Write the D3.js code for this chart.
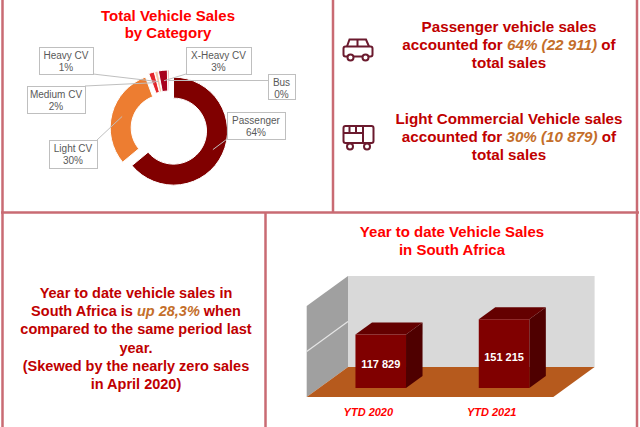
<!DOCTYPE html>
<html>
<head>
<meta charset="utf-8">
<script src="https://cdn.jsdelivr.net/npm/d3@7"></script>
<style>
  body { margin: 0; background: #fff; }
  svg { display: block; font-family: "Liberation Sans", Arial, sans-serif; }
  .frame { stroke: #c96b73; stroke-width: 2.5; fill: none; }
  .chartTitle { fill: #ff0000; font-weight: bold; font-size: 15px; text-anchor: middle; }
  .note { fill: #c00000; font-weight: bold; text-anchor: middle; }
  .hi { fill: #c46e2a; font-style: italic; }
  .calloutBox { fill: #fff; stroke: #bfbfbf; stroke-width: 1; }
  .calloutText { fill: #595959; font-size: 10px; text-anchor: middle; }
  .leader { stroke: #bfbfbf; stroke-width: 1; }
  .icon { fill: none; stroke: #6b1a2e; stroke-width: 2; }
</style>
</head>
<body>
<svg id="chart" width="640" height="427"></svg>
<script>
// donut data: share of total vehicle sales by category
const donutCategories = ["Passenger", "Light CV", "Medium CV", "Heavy CV", "X-Heavy CV", "Bus"];
const donutSales = [22911, 10879, 600, 350, 950, 120];
const donutColors = ["#800000", "#ed7d31", "#e3262b", "#f6c7a5", "#a8001e", "#c00000"];

// year to date totals
const ytdCategories = ["YTD 2020", "YTD 2021"];
const ytdSales = [117829, 151215];
const ytdTicks = [0, 100000, 200000];

let svg = d3.select("#chart");

// panel frames
let frames = [
    [2.5, 0, 2.5, 427], [637, 0, 637, 427],
    [1, 212.5, 639, 212.5],
    [333, 0, 333, 212.5], [265.5, 212.5, 265.5, 427]
];
svg.selectAll(".frame").data(frames).enter().append("line")
    .attr("class", "frame")
    .attr("x1", d => d[0]).attr("y1", d => d[1])
    .attr("x2", d => d[2]).attr("y2", d => d[3]);

// ---------- donut ----------
let donutTitle = svg.append("text").attr("class", "chartTitle");
donutTitle.append("tspan").attr("x", 168).attr("y", 21).text("Total Vehicle Sales");
donutTitle.append("tspan").attr("x", 168).attr("y", 38).text("by Category");

let cx = 169, cy = 129, explode = 5;
let total = d3.sum(donutSales);
let pie = d3.pie().sort(null).value(d => d);
let arc = d3.arc().innerRadius(33).outerRadius(54);
let slices = pie(donutSales);

// offset of each slice along its mid angle
function shift(d) {
    let a = (d.startAngle + d.endAngle) / 2;
    return [Math.sin(a) * explode, -Math.cos(a) * explode];
}

let donut = svg.append("g").attr("transform", "translate(" + cx + "," + cy + ")");
donut.selectAll("path").data(slices).enter().append("path")
    .attr("d", arc)
    .attr("fill", (d, i) => donutColors[i])
    .attr("stroke", "#fff").attr("stroke-width", 1)
    .attr("transform", d => "translate(" + shift(d) + ")");

// callout boxes (x, y, w, h)
let boxes = [
    [227, 112, 58, 27], [49, 140, 48, 28], [27, 86, 58, 27],
    [39, 47, 54, 27], [186, 47, 65, 27], [268, 74, 27, 25]
];

slices.forEach((d, i) => {
    let c = arc.centroid(d), s = shift(d);
    let ax = cx + c[0] + s[0], ay = cy + c[1] + s[1];
    let b = boxes[i];
    let ex = Math.max(b[0], Math.min(b[0] + b[2], ax));
    let ey = Math.max(b[1], Math.min(b[1] + b[3], ay));
    svg.append("line").attr("class", "leader")
        .attr("x1", ax).attr("y1", ay).attr("x2", ex).attr("y2", ey);
});

let callouts = svg.selectAll(".callout").data(slices).enter().append("g").attr("class", "callout");
callouts.append("rect").attr("class", "calloutBox")
    .attr("x", (d, i) => boxes[i][0] + 0.5).attr("y", (d, i) => boxes[i][1] + 0.5)
    .attr("width", (d, i) => boxes[i][2]).attr("height", (d, i) => boxes[i][3]);
let ct = callouts.append("text").attr("class", "calloutText");
ct.append("tspan")
    .attr("x", (d, i) => boxes[i][0] + boxes[i][2] / 2)
    .attr("y", (d, i) => boxes[i][1] + 11.5)
    .text((d, i) => donutCategories[i]);
ct.append("tspan")
    .attr("x", (d, i) => boxes[i][0] + boxes[i][2] / 2)
    .attr("y", (d, i) => boxes[i][1] + 23.5)
    .text(d => Math.round(d.value / total * 100) + "%");

// ---------- top right notes ----------
let fmt = v => d3.format(",")(v).replace(/,/g, " ");
let pct = i => Math.round(donutSales[i] / total * 100) + "%";

function note(x, y, lines, size) {
    let t = svg.append("text").attr("class", "note").style("font-size", size + "px");
    lines.forEach((parts, k) => {
        let first = true;
        parts.forEach(p => {
            let ts = t.append("tspan").text(p.t);
            if (first) { ts.attr("x", x).attr("y", y + k * 18.2); first = false; }
            if (p.hi) ts.attr("class", "hi");
        });
    });
}

note(509, 32, [
    [{t: "Passenger vehicle sales"}],
    [{t: "accounted for "}, {t: pct(0) + " (" + fmt(donutSales[0]) + ")", hi: true}, {t: " of"}],
    [{t: "total sales"}]
], 15.2);
note(509, 124, [
    [{t: "Light Commercial Vehicle sales"}],
    [{t: "accounted for "}, {t: pct(1) + " (" + fmt(donutSales[1]) + ")", hi: true}, {t: " of"}],
    [{t: "total sales"}]
], 15.2);

// car icon
let car = svg.append("g").attr("class", "icon");
car.append("path").attr("d", "M347,46.5 L349.5,39.5 L366,39.5 L369,46.5 M357.5,39.5 V46.5");
car.append("rect").attr("x", 343.5).attr("y", 46.5).attr("width", 29).attr("height", 10).attr("rx", 2);
car.selectAll("circle").data([350.5, 365.5]).enter().append("circle")
    .attr("cx", d => d).attr("cy", 57.5).attr("r", 3).attr("fill", "#fff");

// bus icon
let bus = svg.append("g").attr("class", "icon");
bus.append("rect").attr("x", 343.5).attr("y", 126).attr("width", 30).attr("height", 17).attr("rx", 2);
bus.append("path").attr("d", "M343.5,133 H363 M349.5,126 V133 M356,126 V133 M363,126 V143");
bus.selectAll("circle").data([350, 367]).enter().append("circle")
    .attr("cx", d => d).attr("cy", 146.5).attr("r", 3).attr("fill", "#fff");

// ---------- bottom left note ----------
let growth = (ytdSales[1] / ytdSales[0] - 1) * 100;
note(136, 298, [
    [{t: "Year to date vehicle sales in"}],
    [{t: "South Africa is "}, {t: "up " + growth.toFixed(1).replace(".", ",") + "%", hi: true}, {t: " when"}],
    [{t: "compared to the same period last"}],
    [{t: "year."}],
    [{t: "(Skewed by the nearly zero sales"}],
    [{t: "in April 2020)"}]
], 14.5);

// ---------- 3D bar chart ----------
let barTitle = svg.append("text").attr("class", "chartTitle");
barTitle.append("tspan").attr("x", 452).attr("y", 237).text("Year to date Vehicle Sales");
barTitle.append("tspan").attr("x", 452).attr("y", 254.5).text("in South Africa");

let depth = [41.3, -30];
let x = d3.scaleBand().domain(ytdCategories).range([306.7, 553.3])
    .paddingInner(0.59).paddingOuter(0.295);
let y = d3.scaleLinear().domain([0, d3.max(ytdTicks)]).range([397, 306]);

// project a front-plane point back by fraction f of the depth
let P = (px, py, f) => [px + f * depth[0], py + f * depth[1]];
let poly = pts => "M" + pts.map(p => p.join(",")).join("L") + "Z";

let x0 = x.range()[0], x1 = x.range()[1];
let yMax = y(d3.max(ytdTicks)), y0 = y(0);
let walls = svg.append("g");
walls.append("path").attr("fill", "#d9d9d9")
    .attr("d", poly([P(x0, y0, 1), P(x1, y0, 1), P(x1, yMax, 1), P(x0, yMax, 1)]));
walls.append("path").attr("fill", "#a0a0a0")
    .attr("d", poly([P(x0, y0, 0), P(x0, y0, 1), P(x0, yMax, 1), P(x0, yMax, 0)]));
walls.selectAll("line").data(ytdTicks.slice(1, -1)).enter().append("line")
    .attr("stroke", "#e6e6e6").attr("stroke-width", 1.2)
    .attr("x1", P(x0, 0, 0)[0]).attr("y1", d => y(d))
    .attr("x2", P(x0, 0, 1)[0]).attr("y2", d => P(x0, y(d), 1)[1]);
walls.append("path").attr("fill", "#b65a1d")
    .attr("d", poly([P(x0, y0, 0), P(x1, y0, 0), P(x1, y0, 1), P(x0, y0, 1)]));

let f0 = 0.3, f1 = 0.7;
let bars = svg.selectAll(".bar3d").data(ytdSales).enter().append("g").attr("class", "bar3d");
bars.each(function(v, i) {
    let g = d3.select(this);
    let bx0 = x(ytdCategories[i]), bx1 = bx0 + x.bandwidth(), yt = y(v);
    g.append("path").attr("fill", "#4f0000")
        .attr("d", poly([P(bx1, yt, f0), P(bx1, yt, f1), P(bx1, y0, f1), P(bx1, y0, f0)]));
    g.append("path").attr("fill", "#640000")
        .attr("d", poly([P(bx0, yt, f0), P(bx1, yt, f0), P(bx1, yt, f1), P(bx0, yt, f1)]));
    g.append("path").attr("fill", "#800000")
        .attr("d", poly([P(bx0, yt, f0), P(bx1, yt, f0), P(bx1, y0, f0), P(bx0, y0, f0)]));
    let c = P((bx0 + bx1) / 2, (yt + y0) / 2, f0);
    g.append("text").attr("x", c[0]).attr("y", c[1] + 7)
        .attr("text-anchor", "middle").attr("fill", "#fff")
        .style("font-size", "11px").style("font-weight", "bold")
        .text(fmt(v));
});

svg.selectAll(".ytdLabel").data(ytdCategories).enter().append("text")
    .attr("class", "ytdLabel")
    .attr("x", d => x(d) + x.bandwidth() / 2).attr("y", 416)
    .attr("text-anchor", "middle").attr("fill", "#ff0000")
    .style("font-size", "11px").style("font-weight", "bold").style("font-style", "italic")
    .text(d => d);
</script>
</body>
</html>
